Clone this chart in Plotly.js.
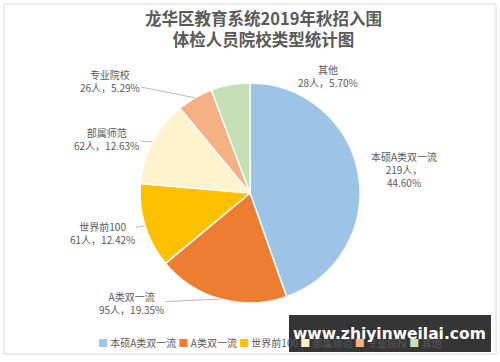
<!DOCTYPE html>
<html>
<head>
<meta charset="utf-8">
<script src="https://cdn.plot.ly/plotly-3.0.1.min.js"></script>
<style>html,body{margin:0;padding:0;background:#fff;}#chart{width:500px;height:362px;}</style>
</head>
<body>
<div id="chart"></div>
<script>
// ---- data ----
const categories = ["本硕A类双一流", "A类双一流", "世界前100", "部属师范", "专业院校", "其他"];
const counts = [219, 95, 61, 62, 26, 28];
const percentLabels = ["44.60%", "19.35%", "12.42%", "12.63%", "5.29%", "5.70%"];
const colors = ["#9DC3E6", "#ED7D31", "#FFC000", "#FFF2CC", "#F4B183", "#C5E0B4"];

// ---- layout constants ----
const W = 500, H = 362;
const cx = 250, cy = 193, R = 110;
const font = '"Noto Sans CJK SC", "Noto Sans", sans-serif';
const labelColor = "#595959";
// label text offsets (px) from slice edge point, and whether a leader line is shown
const labelOffsets = [[46, -5, false], [-89, 4, true], [-43, 7, true], [-46, -3, true], [-85, -17, true], [98, -9, false]];

const total = counts.reduce((a, b) => a + b, 0);
const annotations = [];
let cum = 0;
counts.forEach((v, i) => {
  const frac = (cum + v / 2) / total;
  cum += v;
  const th = 2 * Math.PI * frac;
  const px = cx + R * Math.sin(th);
  const py = cy - R * Math.cos(th);
  const [ax, ay, line] = labelOffsets[i];
  const txt = i === 0
    ? categories[i] + "<br>" + counts[i] + "人，<br>" + percentLabels[i]
    : categories[i] + "<br>" + counts[i] + "人，" + percentLabels[i];
  annotations.push({
    x: px / W, y: 1 - py / H, xref: "paper", yref: "paper",
    text: txt, showarrow: true, arrowhead: 0, arrowwidth: 0.8,
    arrowcolor: line ? "#a6a6a6" : "rgba(0,0,0,0)",
    ax: ax, ay: ay, standoff: 0, startstandoff: 0,
    font: {family: font, size: 10, color: labelColor}, align: "center"
  });
});

// legend as a single text line
const legendText = categories.map((c, i) =>
  '<span style="color:' + colors[i] + '">■</span> ' + c).join(' ');
annotations.push({
  x: 96 / W, y: 1 - 342 / H, xref: "paper", yref: "paper", xanchor: "left", yanchor: "middle",
  text: legendText, showarrow: false, font: {family: font, size: 10, color: labelColor}
});

// title
annotations.push({
  x: 263 / W, y: 1 - 29 / H, xref: "paper", yref: "paper", xanchor: "center", yanchor: "middle",
  text: "<b>龙华区教育系统2019年秋招入围<br>体检人员院校类型统计图</b>", showarrow: false,
  font: {family: font, size: 16.5, color: "#595959"}
});

// watermark
annotations.push({
  x: 389 / W, y: 1 - 334 / H, xref: "paper", yref: "paper", xanchor: "center", yanchor: "middle",
  text: "<b>www.zhiyinweilai.com</b>", showarrow: false,
  font: {family: '"DejaVu Sans", sans-serif', size: 15.5, color: "#ffffff"}
});

const data = [{
  type: "pie",
  labels: categories,
  values: counts,
  sort: false,
  direction: "clockwise",
  rotation: 0,
  textinfo: "none",
  hoverinfo: "label+value+percent",
  marker: {colors: colors, line: {color: "#ffffff", width: 1.5}},
  domain: {x: [(cx - R) / W, (cx + R) / W], y: [1 - (cy + R) / H, 1 - (cy - R) / H]},
  showlegend: false
}];

const layout = {
  width: W, height: H,
  margin: {l: 0, r: 0, t: 0, b: 0},
  paper_bgcolor: "#ffffff",
  showlegend: false,
  annotations: annotations,
  shapes: [
    {type: "rect", xref: "paper", yref: "paper", x0: 4 / W, x1: 496 / W, y0: 1 - 354 / H, y1: 1 - 4 / H,
     line: {color: "#d9d9d9", width: 1}, fillcolor: "rgba(0,0,0,0)", layer: "below"},
    {type: "rect", xref: "paper", yref: "paper", x0: 289 / W, x1: 491 / W, y0: 1 - 352 / H, y1: 1 - 315 / H,
     line: {width: 0}, fillcolor: "rgba(25,25,25,0.88)", layer: "above"}
  ]
};

Plotly.newPlot("chart", data, layout, {displayModeBar: false, staticPlot: true});
</script>
</body>
</html>
